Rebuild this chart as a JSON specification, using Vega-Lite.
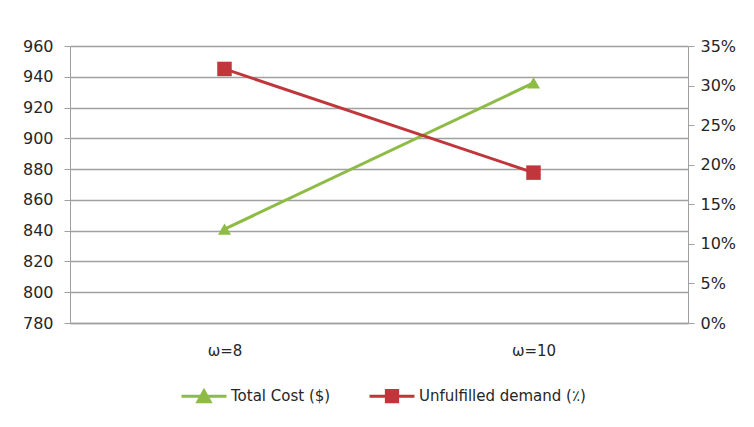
{
  "$schema": "https://vega.github.io/schema/vega-lite/v6.json",
  "autosize": {"type": "none"},
  "padding": {"left": 70, "top": 46, "right": 66, "bottom": 104},
  "width": 618,
  "height": 277,
  "background": "white",
  "config": {
    "view": {"stroke": null},
    "font": "DejaVu Sans",
    "axis": {"labelFont": "DejaVu Sans", "labelColor": "#262626", "domainColor": "#A0A0A0", "tickColor": "#A0A0A0", "gridColor": "#A0A0A0", "labelFontSize": 16}
  },
  "data": {"values": [
    {"omega": "ω=8", "series": "Total Cost ($)", "value": 841},
    {"omega": "ω=10", "series": "Total Cost ($)", "value": 936},
    {"omega": "ω=8", "series": "Unfulfilled demand (٪)", "value": 0.321},
    {"omega": "ω=10", "series": "Unfulfilled demand (٪)", "value": 0.19}
  ]},
  "encoding": {
    "x": {"field": "omega", "type": "nominal", "sort": ["ω=8", "ω=10"],
      "scale": {"type": "point", "padding": 0.5},
      "axis": {"title": null, "labelAngle": 0, "ticks": false, "labelPadding": 20, "labelFontSize": 15, "grid": false, "domainWidth": 1.5}},
    "color": {"field": "series", "type": "nominal",
      "scale": {"domain": ["Total Cost ($)", "Unfulfilled demand (٪)"], "range": ["#8DBB44", "#C0363A"]},
      "legend": {"title": null, "orient": "none", "direction": "horizontal", "legendX": 110, "legendY": 326,
        "symbolSize": 2025, "symbolStrokeWidth": 3, "labelFontSize": 15, "labelFont": "DejaVu Sans", "labelColor": "#262626", "labelOffset": 3, "columnPadding": 32, "labelLimit": 400,
        "encode": {"symbols": {"update": {
          "shape": {"signal": "indexof(datum.value, 'Total') === 0 ? 'M-1,0H1M-0.27,0.24L0,-0.24L0.27,0.24Z' : 'M-1,0H1M-0.25,-0.25H0.25V0.25H-0.25Z'"},
          "fill": {"signal": "scale('color', datum.value)"},
          "stroke": {"signal": "scale('color', datum.value)"},
          "strokeWidth": {"value": 3},
          "opacity": {"value": 1},
          "fillOpacity": {"value": 1}
        }}}}}
  },
  "layer": [
    {
      "transform": [{"filter": "indexof(datum.series, 'Total') === 0"}],
      "encoding": {
        "y": {"field": "value", "type": "quantitative",
          "scale": {"domain": [780, 960], "nice": false, "zero": false},
          "axis": {"title": null, "orient": "left", "values": [780, 800, 820, 840, 860, 880, 900, 920, 940, 960], "tickSize": 6, "labelPadding": 11, "grid": true, "gridWidth": 1.3}}
      },
      "layer": [
        {"mark": {"type": "line", "strokeWidth": 3}},
        {"mark": {"type": "point", "shape": "triangle-up", "filled": true, "size": 170, "opacity": 1}}
      ]
    },
    {
      "transform": [{"filter": "indexof(datum.series, 'Unfulfilled') === 0"}],
      "encoding": {
        "y": {"field": "value", "type": "quantitative",
          "scale": {"domain": [0, 0.35], "nice": false},
          "axis": {"title": null, "orient": "right", "format": ".0%", "values": [0, 0.05, 0.1, 0.15, 0.2, 0.25, 0.3, 0.35], "tickSize": 6, "labelPadding": 6, "grid": false}}
      },
      "layer": [
        {"mark": {"type": "line", "strokeWidth": 3}},
        {"mark": {"type": "point", "shape": "square", "filled": true, "size": 210, "opacity": 1}}
      ]
    }
  ],
  "resolve": {"scale": {"y": "independent"}}
}
